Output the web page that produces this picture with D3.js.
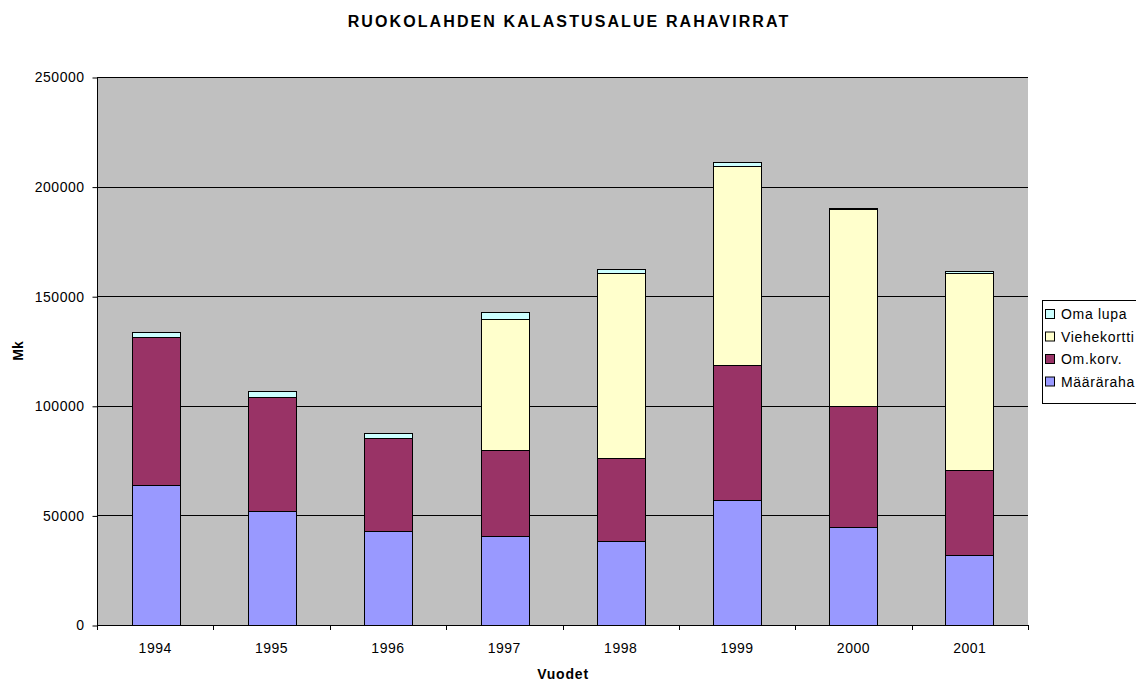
<!DOCTYPE html>
<meta charset="utf-8">
<style>
body { margin: 0; background: #fff; }
svg { font-family: Arial, "Liberation Sans", sans-serif; }
.grid line { stroke: #000; stroke-width: 1; }
.bars rect { stroke: #000; stroke-width: 1; }
</style>
<svg width="1136" height="682"></svg>
<script src="https://d3js.org/d3.v7.min.js"></script>
<script>

var years = ["1994", "1995", "1996", "1997", "1998", "1999", "2000", "2001"];
var seriesNames = ["Määräraha", "Om.korv.", "Viehekortti", "Oma lupa"];
var maararaha   = [64000, 52000, 43000, 40600, 38300, 57000, 44700, 31900];
var omkorv      = [67500, 52000, 42400, 39400, 37900, 61600, 55200, 38800];
var viehekortti = [0, 0, 0, 59600, 84200, 90800, 89700, 89700];
var omalupa     = [2300, 2700, 2300, 3300, 1900, 1800, 800, 1200];
var colors = ["#9999ff", "#993366", "#ffffcc", "#ccffff"];
var yTicks = [0, 50000, 100000, 150000, 200000, 250000];

var svg = d3.select("svg");
var plotLeft = 97, plotRight = 1028, plotTop = 77, plotBottom = 625;

var table = years.map(function(y, i) {
  return { year: y, "Määräraha": maararaha[i], "Om.korv.": omkorv[i],
           "Viehekortti": viehekortti[i], "Oma lupa": omalupa[i] };
});
var stacked = d3.stack().keys(seriesNames)(table);

var x = d3.scaleBand().domain(years).range([plotLeft, plotRight]).paddingInner(0.59).paddingOuter(0.3);
var xb = d3.scaleBand().domain(years).range([plotLeft, plotRight]);
var y = d3.scaleLinear().domain([0, 250000]).range([plotBottom, plotTop]);

// plot area
svg.append("rect")
  .attr("x", plotLeft).attr("y", plotTop)
  .attr("width", plotRight - plotLeft).attr("height", plotBottom - plotTop)
  .attr("fill", "#c0c0c0");

svg.append("g").attr("class", "grid")
  .selectAll("line").data(yTicks.slice(1))
  .enter().append("line")
  .attr("x1", plotLeft).attr("x2", plotRight)
  .attr("y1", function(d) { return Math.round(y(d)) + 0.5; })
  .attr("y2", function(d) { return Math.round(y(d)) + 0.5; });

// bars
svg.append("g").attr("class", "bars")
  .selectAll("g").data(stacked)
  .enter().append("g")
  .attr("fill", function(d, i) { return colors[i]; })
  .selectAll("rect").data(function(d) { return d.filter(function(s) { return s[1] > s[0]; }); })
  .enter().append("rect")
  .attr("x", function(d) { return Math.round(x(d.data.year)) + 0.5; })
  .attr("width", Math.round(x.bandwidth()))
  .attr("y", function(d) { return Math.round(y(d[1])) + 0.5; })
  .attr("height", function(d) { return Math.round(y(d[0])) - Math.round(y(d[1])); });

// axes
var yAxis = d3.axisLeft(y).tickValues(yTicks).tickSize(5).tickFormat(d3.format("d"));
var gy = svg.append("g").attr("transform", "translate(" + (plotLeft + 0.5) + ",0.5)").call(yAxis);
gy.selectAll("text")
  .attr("font-size", 14)
  .attr("font-family", "Arial, 'Liberation Sans', sans-serif")
  .attr("letter-spacing", 0.5)
  .attr("x", -13).attr("fill", "#000");
gy.selectAll("line, path").attr("stroke", "#000");
gy.select(".domain").attr("d", "M0," + plotTop + "V" + plotBottom);

svg.append("line")
  .attr("x1", plotLeft).attr("x2", plotRight)
  .attr("y1", plotBottom + 0.5).attr("y2", plotBottom + 0.5)
  .attr("stroke", "#000");

var bounds = years.map(function(d) { return xb(d); }).concat([plotRight]);
svg.append("g").selectAll("line").data(bounds)
  .enter().append("line")
  .attr("x1", function(d) { return Math.round(d) + 0.5; })
  .attr("x2", function(d) { return Math.round(d) + 0.5; })
  .attr("y1", plotBottom).attr("y2", plotBottom + 5)
  .attr("stroke", "#000");

svg.append("g").selectAll("text").data(years)
  .enter().append("text")
  .attr("x", function(d) { return xb(d) + xb.bandwidth() / 2; })
  .attr("y", 653)
  .attr("text-anchor", "middle")
  .attr("font-size", 14)
  .attr("letter-spacing", 0.5)
  .text(function(d) { return d; });

// titles
svg.append("text")
  .attr("x", 569).attr("y", 27)
  .attr("text-anchor", "middle")
  .attr("font-size", 16).attr("font-weight", "bold")
  .attr("letter-spacing", 2.1)
  .text("RUOKOLAHDEN KALASTUSALUE RAHAVIRRAT");

svg.append("text")
  .attr("x", 563).attr("y", 679)
  .attr("text-anchor", "middle")
  .attr("font-size", 14).attr("font-weight", "bold")
  .attr("letter-spacing", 0.8)
  .text("Vuodet");

svg.append("text")
  .attr("transform", "translate(23,351) rotate(-90)")
  .attr("text-anchor", "middle")
  .attr("font-size", 14).attr("font-weight", "bold")
  .text("Mk");

// legend
var legend = svg.append("g");
legend.append("rect")
  .attr("x", 1042.5).attr("y", 300.5)
  .attr("width", 110).attr("height", 103)
  .attr("fill", "#fff").attr("stroke", "#000");

var legendOrder = [3, 2, 1, 0];
var items = legend.selectAll("g.item").data(legendOrder)
  .enter().append("g").attr("class", "item")
  .attr("transform", function(d, i) { return "translate(0," + (314 + i * 22.5) + ")"; });
items.append("rect")
  .attr("x", 1045.5).attr("y", -4.5)
  .attr("width", 9).attr("height", 9)
  .attr("fill", function(d) { return colors[d]; })
  .attr("stroke", "#000");
items.append("text")
  .attr("x", 1061).attr("y", 5)
  .attr("font-size", 14)
  .attr("letter-spacing", 0.7)
  .text(function(d) { return seriesNames[d]; });

</script>
